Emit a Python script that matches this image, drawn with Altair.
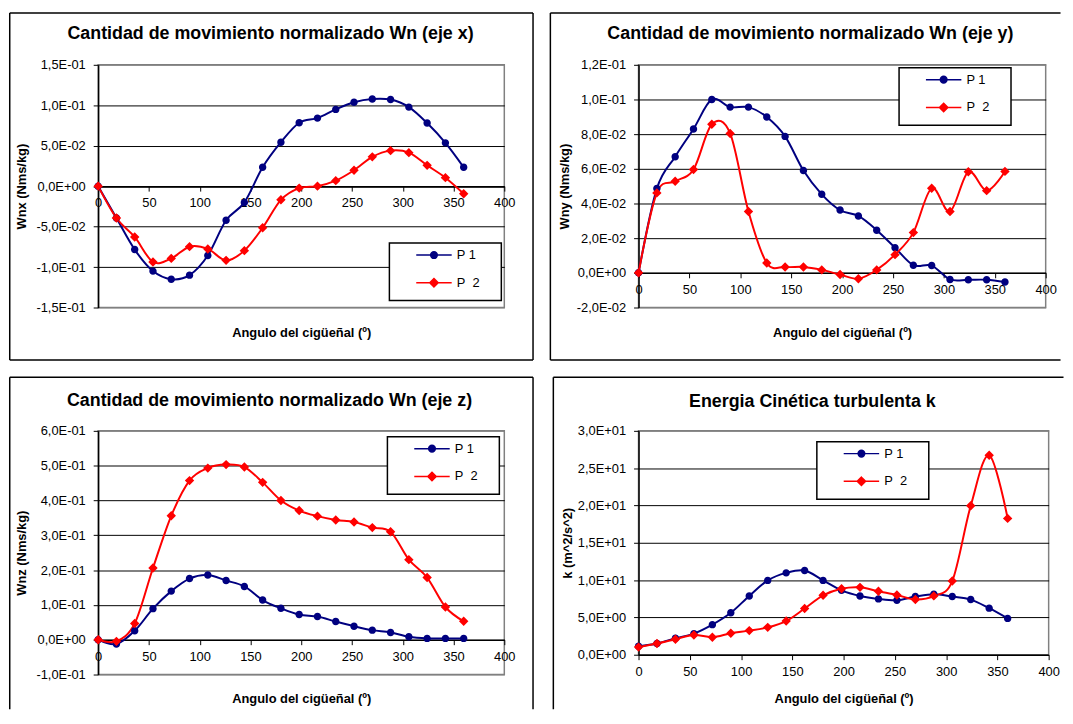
import altair as alt
import pandas as pd

# ---------------- data ----------------
ANGLE = [0, 18, 36, 54, 72, 90, 108, 126, 144, 162, 180, 198, 216, 234, 252, 270, 288, 306, 324, 342, 360]

WNX_P1 = [0.0, -0.0394, -0.0784, -0.105, -0.115, -0.110, -0.0857, -0.0422, -0.0201, 0.0233, 0.0543,
          0.0784, 0.0841, 0.0949, 0.1038, 0.1078, 0.107, 0.0977, 0.078, 0.0535, 0.0233]
WNX_P2 = [0.0, -0.0394, -0.0628, -0.0937, -0.0893, -0.0748, -0.0776, -0.0917, -0.0797, -0.0515, -0.0169,
          -0.0024, 0.0, 0.0068, 0.0197, 0.0362, 0.0439, 0.0414, 0.0257, 0.0105, -0.0093]
WNY_P1 = [0.0, 0.0486, 0.067, 0.083, 0.100, 0.0956, 0.0956, 0.0899, 0.0787, 0.059, 0.0453,
          0.0362, 0.0328, 0.0246, 0.0145, 0.0044, 0.0042, -0.0038, -0.004, -0.004, -0.0053]
WNY_P2 = [0.0, 0.0461, 0.0528, 0.0596, 0.0857, 0.0804, 0.0354, 0.0057, 0.0034, 0.0034, 0.0017,
          -0.001, -0.0034, 0.0017, 0.0105, 0.0232, 0.0488, 0.0354, 0.0583, 0.0474, 0.0585]
WNZ_P1 = [0.0, -0.0123, 0.0256, 0.0893, 0.1396, 0.1757, 0.1861, 0.170, 0.153, 0.114, 0.0902,
          0.0722, 0.0665, 0.0522, 0.0389, 0.0275, 0.0209, 0.0085, 0.0038, 0.0038, 0.0038]
WNZ_P2 = [0.0, -0.0047, 0.0465, 0.206, 0.356, 0.457, 0.493, 0.503, 0.496, 0.452, 0.400,
          0.371, 0.355, 0.344, 0.338, 0.322, 0.310, 0.230, 0.1785, 0.094, 0.053]
K_P1 = [1.15, 1.50, 2.21, 2.83, 4.03, 5.62, 7.88, 9.96, 10.97, 11.28, 9.96,
        8.63, 7.88, 7.48, 7.30, 7.79, 8.10, 7.79, 7.39, 6.24, 4.87]
K_P2 = [1.02, 1.50, 2.08, 2.65, 2.35, 2.88, 3.23, 3.67, 4.51, 6.19, 7.96,
        8.85, 9.03, 8.50, 8.01, 7.39, 7.88, 9.87, 19.96, 26.73, 18.27]

SERIES = ["P 1", "P\u00a0\u00a02"]

X_TICKS = [0, 50, 100, 150, 200, 250, 300, 350, 400]
X_LABELS = ["0", "50", "100", "150", "200", "250", "300", "350", "400"]

YX_TICKS = [-0.15, -0.10, -0.05, 0.0, 0.05, 0.10, 0.15]
YX_LABELS = ["-1,5E-01", "-1,0E-01", "-5,0E-02", "0,0E+00", "5,0E-02", "1,0E-01", "1,5E-01"]
YY_TICKS = [-0.02, 0.0, 0.02, 0.04, 0.06, 0.08, 0.10, 0.12]
YY_LABELS = ["-2,0E-02", "0,0E+00", "2,0E-02", "4,0E-02", "6,0E-02", "8,0E-02", "1,0E-01", "1,2E-01"]
YZ_TICKS = [-0.1, 0.0, 0.1, 0.2, 0.3, 0.4, 0.5, 0.6]
YZ_LABELS = ["-1,0E-01", "0,0E+00", "1,0E-01", "2,0E-01", "3,0E-01", "4,0E-01", "5,0E-01", "6,0E-01"]
YK_TICKS = [0, 5, 10, 15, 20, 25, 30]
YK_LABELS = ["0,0E+00", "5,0E+00", "1,0E+01", "1,5E+01", "2,0E+01", "2,5E+01", "3,0E+01"]

TITLES = ["Cantidad de movimiento normalizado Wn (eje x)",
          "Cantidad de movimiento normalizado Wn (eje y)",
          "Cantidad de movimiento normalizado Wn (eje z)",
          "Energia Cinética turbulenta k"]
Y_TITLES = ["Wnx (Nms/kg)", "Wny (Nms/kg)", "Wnz (Nms/kg)", "k (m^2/s^2)"]
X_TITLE = "Angulo del cigüeñal (º)"

# ---------------- style ----------------
FONT = "Liberation Sans"
COLORS = ["#000080", "#FF0000"]
CIRCLE = "M-0.75,0A0.75,0.75,0,1,1,0.75,0A0.75,0.75,0,1,1,-0.75,0ZM-4,0L4,0"
DIAMOND = "M0,-0.95L0.95,0L0,0.95L-0.95,0ZM-4,0L4,0"


def label_expr(ticks, labels):
    expr = "''"
    for t, l in zip(ticks, labels):
        expr = f"abs(datum.value - ({t})) < 1e-9 ? '{l}' : (" + expr + ")"
    return expr


def one():
    return pd.DataFrame({"k": [0]})


def rule(x1, y1, x2, y2):
    return alt.Chart(one()).mark_rule(color="black", strokeWidth=1.5).encode(
        x=alt.value(x1), x2=alt.value(x2), y=alt.value(y1), y2=alt.value(y2))


def panel(p1, p2, yticks, ylabels, title, ytitle, g):
    W, H = g["W"], g["H"]
    n = len(ANGLE)
    df = pd.DataFrame({"angle": ANGLE + ANGLE, "value": p1 + p2,
                       "series": [SERIES[0]] * n + [SERIES[1]] * n})
    ymin, ymax = yticks[0], yticks[-1]
    zero = H * ymax / (ymax - ymin)

    xaxis = alt.Axis(values=X_TICKS, labelExpr=label_expr(X_TICKS, X_LABELS), title=X_TITLE,
                     offset=zero - H, titleY=270 - zero, titleBaseline="middle",
                     grid=False, domainColor="black", domainWidth=1.5, tickColor="black",
                     tickSize=5, tickWidth=1, labelPadding=6, labelFlush=False,
                     labelOverlap=False, labelBaseline="top")
    edge_test = f"abs(datum.value - ({ymax})) < 1e-9 || abs(datum.value - ({ymin})) < 1e-9"
    yaxis = alt.Axis(values=yticks, labelExpr=label_expr(yticks, ylabels), title=ytitle,
                     titleX=g["ytx"], titleY=H / 2, titleAngle=270, titleBaseline="middle",
                     titleAlign="center", grid=True,
                     gridColor={"condition": {"test": edge_test, "value": "#808080"}, "value": "black"},
                     gridWidth=1, domainColor="black", domainWidth=1.5, tickColor="black",
                     tickSize=5, tickWidth=1, labelPadding=8, labelOverlap=False, labelFlush=False)
    ex = alt.X("angle:Q", scale=alt.Scale(domain=[0, 400], nice=False, zero=False), axis=xaxis)
    ey = alt.Y("value:Q", scale=alt.Scale(domain=[ymin, ymax], nice=False, zero=False), axis=yaxis)

    bx, by = g["box"]
    leg = alt.Legend(orient="none", legendX=bx + 38.5, legendY=by + 5.5, title=None, zindex=2)

    layers = []
    b = g["border"]
    for side in g["sides"]:
        if side == "left":
            layers.append(rule(b["l"], b["t"], b["l"], b["b"]))
        elif side == "right":
            layers.append(rule(b["r"], b["t"], b["r"], b["b"]))
        elif side == "top":
            layers.append(rule(b["l"], b["t"], b["r"], b["t"]))
        elif side == "bottom":
            layers.append(rule(b["l"], b["b"], b["r"], b["b"]))

    box = alt.Chart(one()).mark_rect(fill="white", stroke="black", strokeWidth=1.5).encode(
        x=alt.value(bx), x2=alt.value(bx + 113), y=alt.value(by), y2=alt.value(by + 58))
    layers.append(box)

    for s, c in zip(SERIES, COLORS):
        layers.append(
            alt.Chart(df).transform_filter(alt.datum.series == s)
            .mark_line(interpolate="cardinal", strokeWidth=2, color=c)
            .encode(x=ex, y=ey)
        )
    points = alt.Chart(df).mark_point(filled=True, size=100, opacity=1, strokeWidth=0).encode(
        x=ex, y=ey,
        fill=alt.Fill("series:N", scale=alt.Scale(domain=SERIES, range=COLORS), legend=leg),
        stroke=alt.Stroke("series:N", scale=alt.Scale(domain=SERIES, range=COLORS), legend=leg),
        shape=alt.Shape("series:N", scale=alt.Scale(domain=SERIES, range=[CIRCLE, DIAMOND]), legend=leg))
    layers.append(points)

    tx, ty = g["title"]
    ttl = alt.Chart(pd.DataFrame({"t": [title]})).mark_text(
        font=FONT, fontSize=18, fontWeight="bold", color="black", align="center", baseline="middle"
    ).encode(text="t:N", x=alt.value(tx), y=alt.value(ty))
    layers.append(ttl)

    return alt.layer(*layers).properties(width=W, height=H)


G1 = dict(W=410, H=245, ytx=-77, title=(174, -31), box=(294, 180),
          border=dict(l=-89.25, t=-52.25, r=439, b=298), sides=["left", "top", "right", "bottom"])
G2 = dict(W=411, H=245, ytx=-74.5, title=(173.5, -31), box=(263, 3),
          border=dict(l=-89, t=-52.25, r=426, b=298), sides=["left", "top", "bottom"])
G3 = dict(W=410, H=246, ytx=-77, title=(173, -30), box=(292, 6),
          border=dict(l=-89.25, t=-54, r=439, b=281), sides=["left", "top", "right"])
G4 = dict(W=414, H=226, ytx=-71.5, title=(175.5, -29), box=(180, 11),
          border=dict(l=-86, t=-54, r=429, b=281), sides=["left", "top"])

c1 = panel(WNX_P1, WNX_P2, YX_TICKS, YX_LABELS, TITLES[0], Y_TITLES[0], G1)
c2 = panel(WNY_P1, WNY_P2, YY_TICKS, YY_LABELS, TITLES[1], Y_TITLES[1], G2)
c3 = panel(WNZ_P1, WNZ_P2, YZ_TICKS, YZ_LABELS, TITLES[2], Y_TITLES[2], G3)
c4 = panel(K_P1, K_P2, YK_TICKS, YK_LABELS, TITLES[3], Y_TITLES[3], G4)

chart = alt.concat(c1, c2, c3, c4, columns=2, spacing=13.5, align="each").resolve_scale(
    fill="independent", stroke="independent", shape="independent"
).resolve_legend(
    fill="independent", stroke="independent", shape="independent"
).properties(
    padding=0, background="white"
).configure_view(
    stroke="#808080", strokeWidth=1.5
).configure_axis(
    labelFont=FONT, labelFontSize=13, labelColor="black",
    titleFont=FONT, titleFontSize=13, titleFontWeight="bold", titleColor="black"
).configure_legend(
    labelFont=FONT, labelFontSize=13, labelColor="black", symbolSize=80, symbolStrokeWidth=1.5,
    labelOffset=16.5, rowPadding=13, padding=0, symbolOpacity=1
)

chart.save("out.html", embed_options={"renderer": "svg", "actions": False})
